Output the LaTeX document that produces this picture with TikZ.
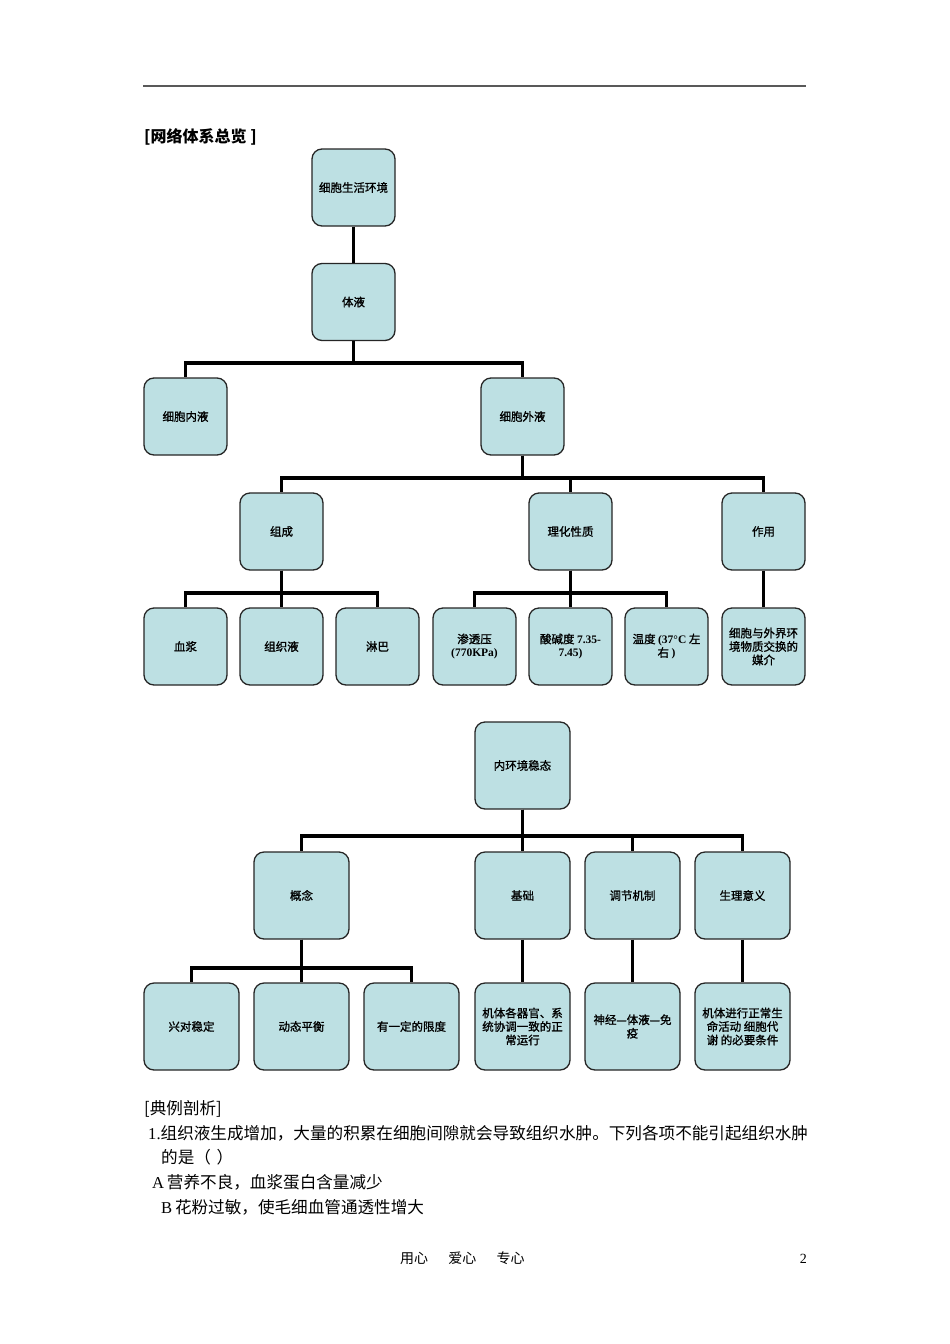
\documentclass[tikz,border=0pt]{standalone}
\usepackage{fontspec}
\setmainfont{Liberation Serif}
\newfontfamily\cjk{Noto Sans CJK SC}
\newfontfamily\cjkb[FakeBold=1.2]{Noto Sans CJK SC}
\definecolor{boxfill}{HTML}{BDE0E3}
\newcommand{\numtxt}[1]{{\rmfamily\bfseries #1}}
\tikzset{
  box/.style={draw=black!85, fill=boxfill, line width=1.3pt, rounded corners=10pt,
    minimum width=83pt, minimum height=77pt, align=center, inner sep=1pt,
    font=\cjkb\fontsize{11.5}{13.5}\selectfont},
  bigbox/.style={box, minimum width=95pt, minimum height=87pt},
  link/.style={line width=3.7pt},
  body/.style={anchor=base west, inner sep=0pt, font=\cjk\fontsize{16.6}{20}\selectfont},
}
\begin{document}
\begin{tikzpicture}[x=1pt, y=-1pt]
\useasboundingbox[fill=white] (0,0) rectangle (950,1344);
%header rule:
\draw[black!65, line width=1.6pt] (143,86) -- (806,86);
\node[anchor=base west, inner sep=0pt, font=\cjk\bfseries\fontsize{16}{18}\selectfont] (title) at (144,142) {[网络体系总览 ]};
%first tree:
\node[box] (env) at (353.5,187.5) {细胞生活环境};
\node[box] (tiye) at (353.5,302) {体液};
\node[box] (neiye) at (185.5,416.5) {细胞内液};
\node[box] (waiye) at (522.5,416.5) {细胞外液};
\node[box] (zucheng) at (281.5,531.5) {组成};
\node[box] (lihua) at (570.5,531.5) {理化性质};
\node[box] (zuoyong) at (763.5,531.5) {作用};
\node[box] (xuejiang) at (185.5,646.5) {血浆};
\node[box] (zuzhiye) at (281.5,646.5) {组织液};
\node[box] (linba) at (377.5,646.5) {淋巴};
\node[box] (shentou) at (474.5,646.5) {渗透压\\\numtxt{(770KPa)}};
\node[box] (suanjian) at (570.5,646.5) {酸碱度 \numtxt{7.35-}\\\numtxt{7.45)}};
\node[box] (wendu) at (666.5,646.5) {温度 \numtxt{(37°C} 左\\右 \numtxt{)}};
\node[box] (meijie) at (763.5,646.5) {细胞与外界环\\境物质交换的\\媒介};
\draw[link] (env) -- (tiye);
\foreach \c in {neiye,waiye} \draw[link] (tiye.south) -- ++(0,22) -| (\c.north);
\foreach \c in {zucheng,lihua,zuoyong} \draw[link] (waiye.south) -- ++(0,22) -| (\c.north);
\foreach \c in {xuejiang,zuzhiye,linba} \draw[link] (zucheng.south) -- ++(0,22) -| (\c.north);
\foreach \c in {shentou,suanjian,wendu} \draw[link] (lihua.south) -- ++(0,22) -| (\c.north);
\draw[link] (zuoyong) -- (meijie);
%second tree:
\node[bigbox] (wentai) at (522.5,765.5) {内环境稳态};
\node[bigbox] (gainian) at (301.5,895.5) {概念};
\node[bigbox] (jichu) at (522.5,895.5) {基础};
\node[bigbox] (tiaojie) at (632.5,895.5) {调节机制};
\node[bigbox] (yiyi) at (742.5,895.5) {生理意义};
\node[bigbox] (xiangdui) at (191.5,1026.5) {兴对稳定};
\node[bigbox] (dongtai) at (301.5,1026.5) {动态平衡};
\node[bigbox] (xiandu) at (411.5,1026.5) {有一定的限度};
\node[bigbox] (qiguan) at (522.5,1026.5) {机体各器官、系\\统协调一致的正\\常运行};
\node[bigbox] (shenjing) at (632.5,1026.5) {神经—体液—免\\疫};
\node[bigbox] (tiaojian) at (742.5,1026.5) {机体进行正常生\\命活动 细胞代\\谢 的必要条件};
\foreach \c in {gainian,jichu,tiaojie,yiyi} \draw[link] (wentai.south) -- ++(0,26) -| (\c.north);
\foreach \c in {xiangdui,dongtai,xiandu} \draw[link] (gainian.south) -- ++(0,28) -| (\c.north);
\draw[link] (jichu) -- (qiguan);
\draw[link] (tiaojie) -- (shenjing);
\draw[link] (yiyi) -- (tiaojian);
%example text:
\node[body] (dianli) at (144,1114) {[典例剖析]};
\node[body] (q1) at (148,1139) {\rmfamily 1.\cjk 组织液生成增加，大量的积累在细胞间隙就会导致组织水肿。下列各项不能引起组织水肿};
\node[body] (q1b) at (161,1163) {的是（\,\,）};
\node[body] (optA) at (152,1188) {\rmfamily A\,\cjk 营养不良，血浆蛋白含量减少};
\node[body] (optB) at (161,1213) {\rmfamily B\,\cjk 花粉过敏，使毛细血管通透性增大};
%footer:
\node[anchor=base west, inner sep=0pt, font=\cjk\fontsize{14}{16}\selectfont] (foot) at (400,1263) {用心\quad\ \ 爱心\quad\ \ 专心};
\node[anchor=base east, inner sep=0pt, font=\fontsize{14}{16}\selectfont] (pagenum) at (807,1263) {2};
\end{tikzpicture}
\end{document}
